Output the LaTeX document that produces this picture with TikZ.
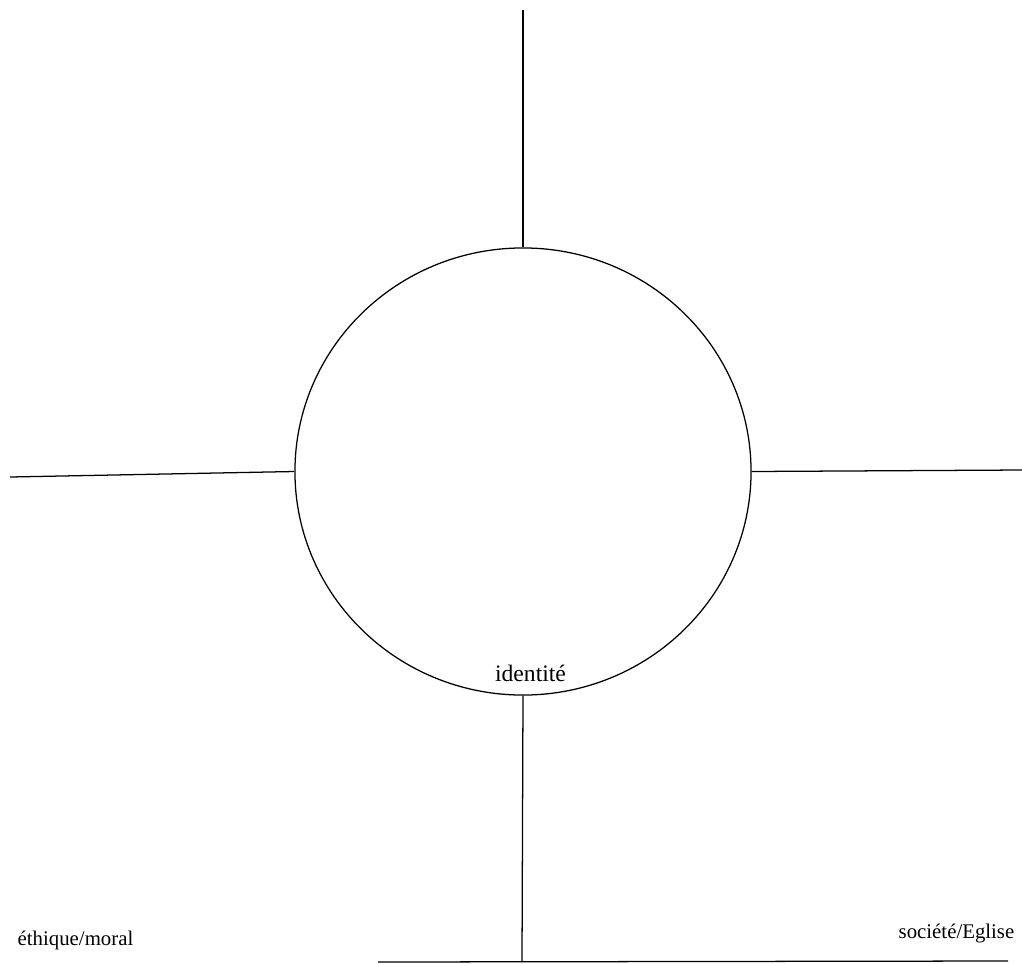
\documentclass[tikz,border=0pt]{standalone}
\usepackage{fontspec}
\setmainfont{Liberation Serif}
\usetikzlibrary{shapes.geometric}

\begin{document}
\begin{tikzpicture}[x=0.025cm, y=-0.025cm,
      axis/.style={draw, line width=0.9pt},
      core/.style={ellipse, draw, line width=0.9pt, inner sep=0pt,
        minimum width=11.4cm, minimum height=11.175cm},
      caption/.style={font=\fontsize{14.8pt}{17pt}\selectfont, inner sep=0pt}
    ]
      \useasboundingbox (0,0) rectangle (1022,963);
      \node[core] (circle) at (523,471.5) {};
      \node[font=\fontsize{16.8pt}{19pt}\selectfont, inner sep=0pt] (identity) at (530.5,673) {identité};
      \node[caption] (ethics) at (75.5,940) {éthique/moral};
      \node[caption] (society) at (956.5,933) {société/Eglise};
      % free ends of the axes
      \coordinate (topend) at (523,10);
      \coordinate (leftend) at (10,477);
      \coordinate (rightend) at (1022,470);
      \coordinate (baseleft) at (378,962);
      \coordinate (baseright) at (1008,961);
      \coordinate (basemid) at (522,962);
      \draw[axis] (circle.north) -- (topend);
      \draw[axis] (circle.west) -- (leftend);
      \draw[axis] (circle.east) -- (rightend);
      \draw[axis] (circle.south) -- (basemid);
      \draw[axis] (baseleft) -- (baseright);
    \end{tikzpicture}
\end{document}
